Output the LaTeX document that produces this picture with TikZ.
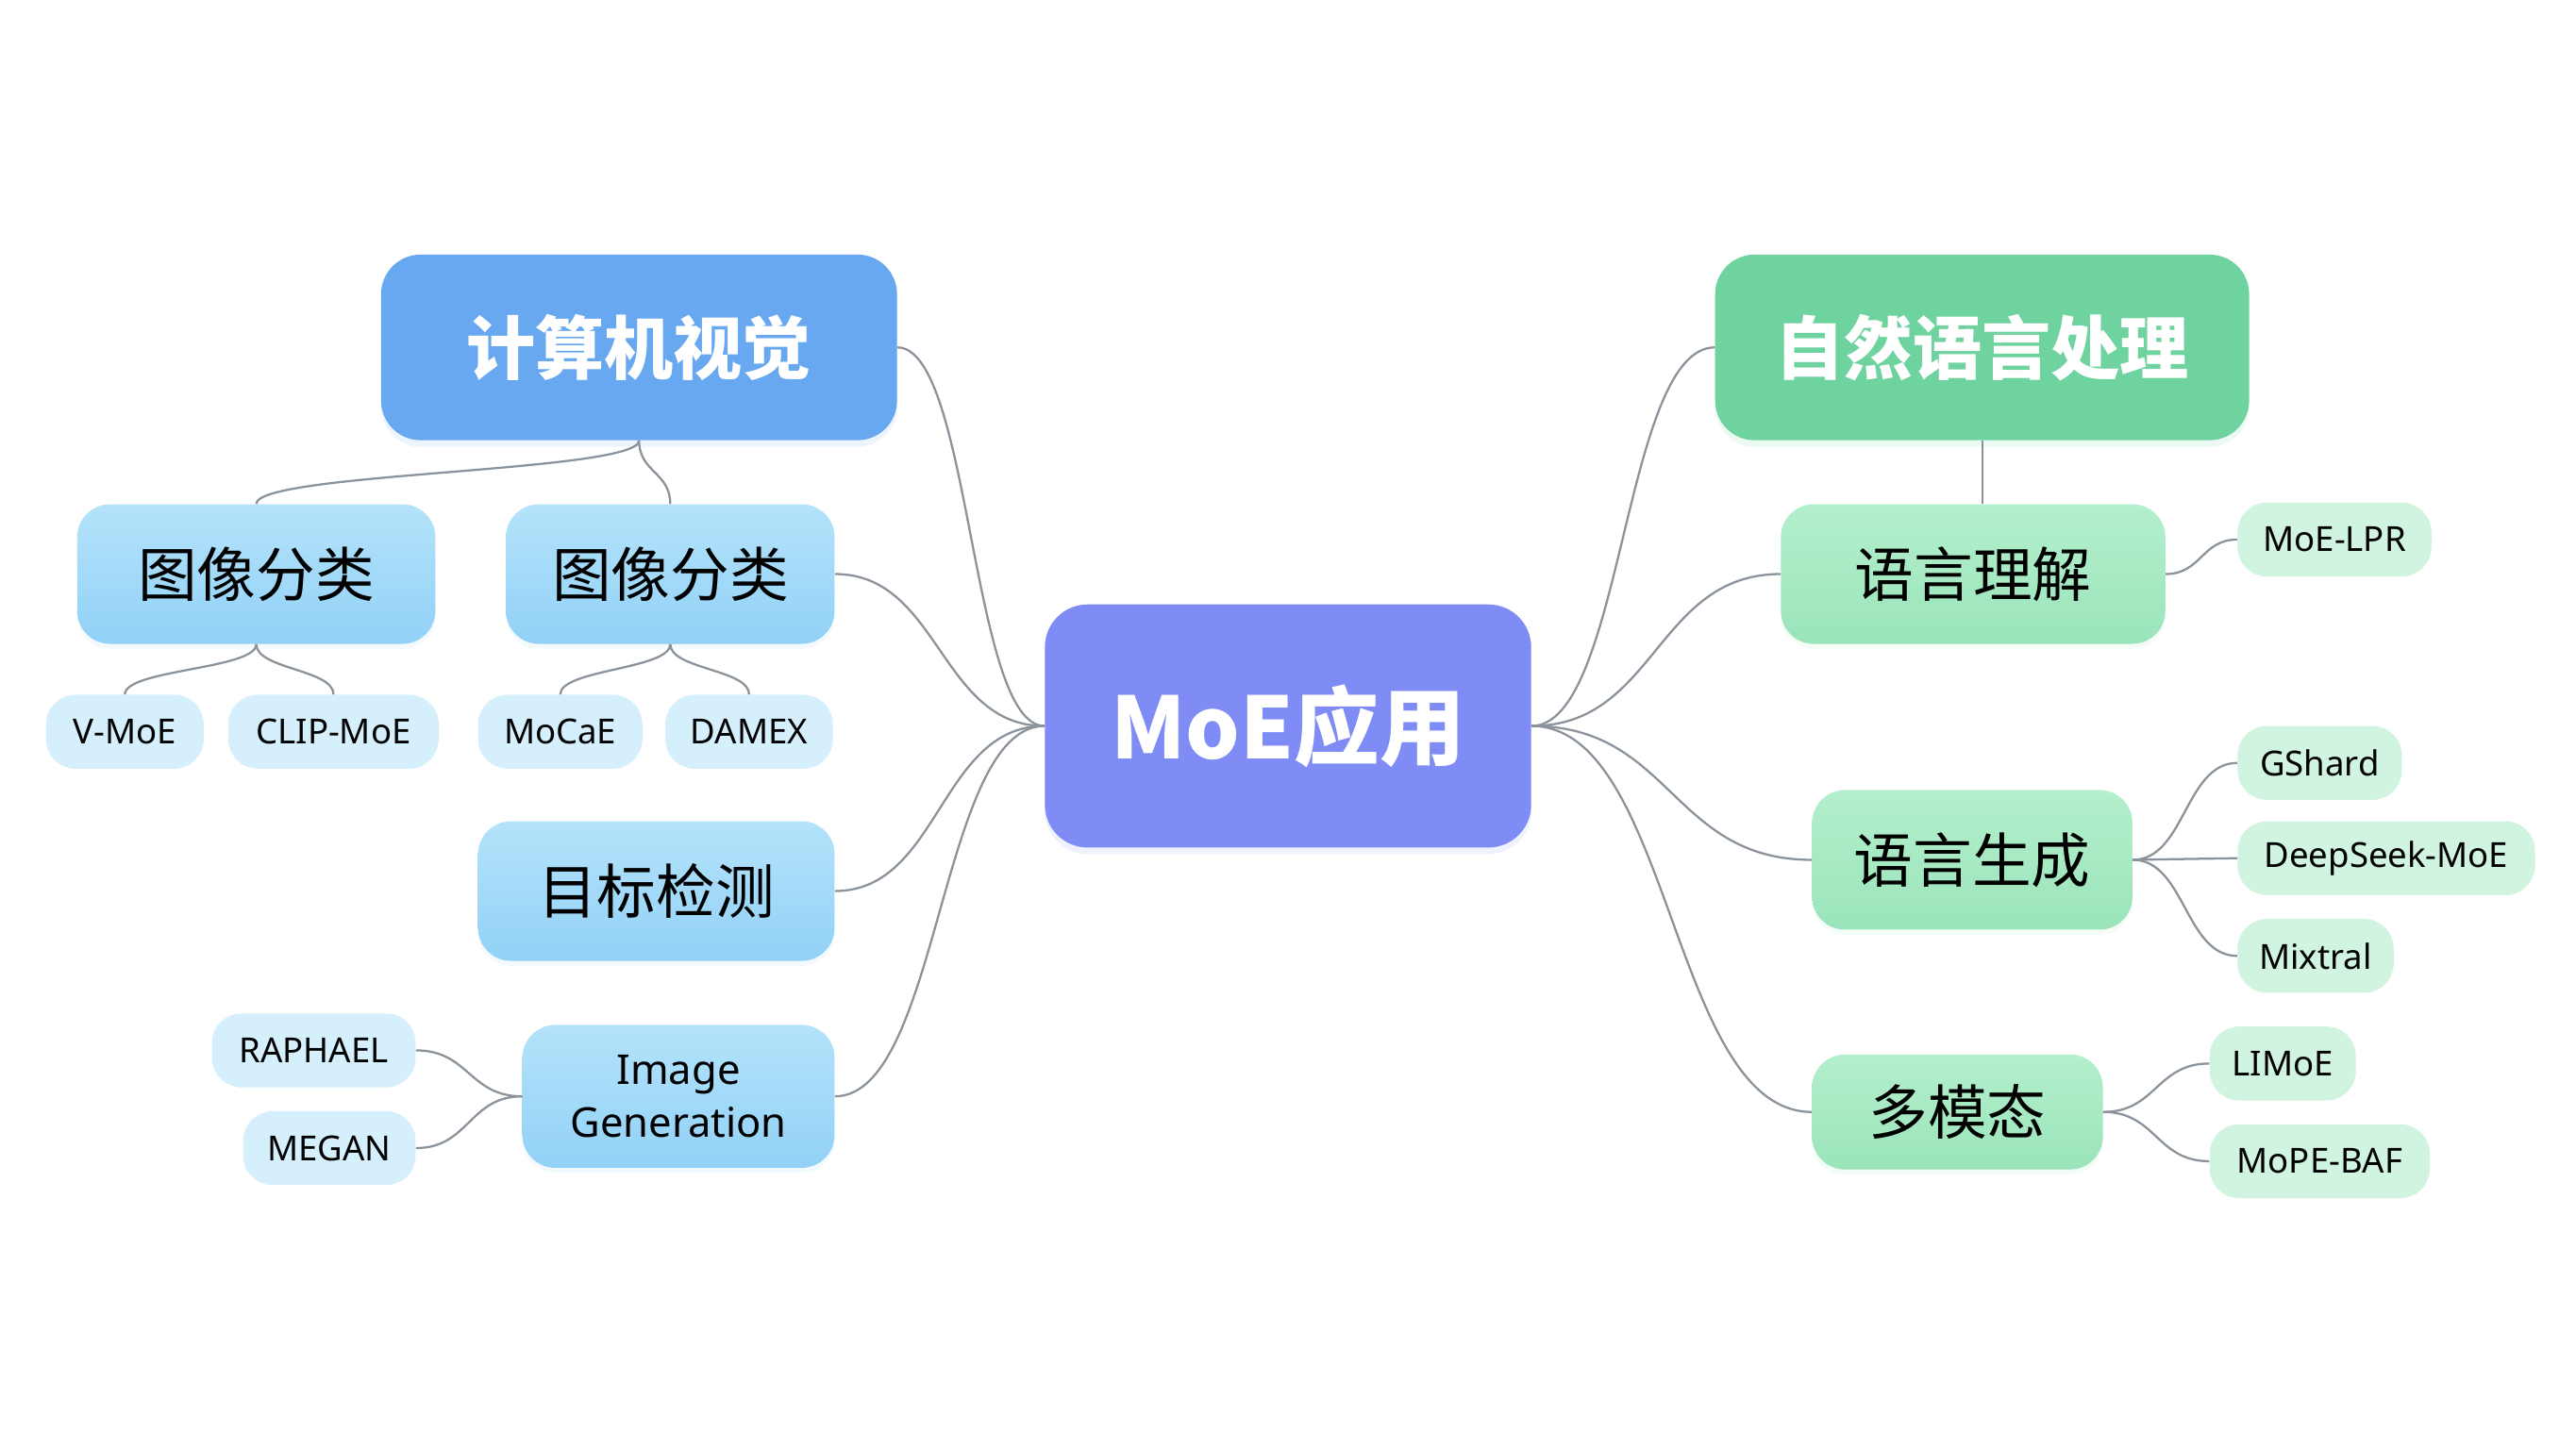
\documentclass[tikz,border=0pt]{standalone}
\usepackage{fontspec}
\setmainfont{Noto Sans}
\newfontfamily\cjk{Noto Sans CJK SC}
\usepackage{tikz}
\usetikzlibrary{calc,shadows}

\definecolor{RootBlue}{HTML}{7F8CF5}
\definecolor{CvBlue}{HTML}{68A8F0}
\definecolor{NlpGreen}{HTML}{6FD3A0}
\definecolor{TopicBlueTop}{HTML}{B4E3FA}
\definecolor{TopicBlueBot}{HTML}{92D1F7}
\definecolor{TopicGreenTop}{HTML}{B4EFCD}
\definecolor{TopicGreenBot}{HTML}{9AE4BA}
\definecolor{LeafBlue}{HTML}{D5EFFC}
\definecolor{LeafGreen}{HTML}{D0F4DF}
\definecolor{LinkGray}{HTML}{8A939B}

\begin{document}
\begin{tikzpicture}[
    x=1pt,y=-1pt,
    Box/.style={rounded corners=#1,align=center,inner sep=0pt},
    Root/.style={Box=26pt,fill=RootBlue,text=white,minimum width=296pt,minimum height=148pt,
      font=\cjk\fontsize{52}{60}\selectfont\bfseries,
      drop shadow={shadow xshift=0pt,shadow yshift=-4pt,opacity=0.12,fill=RootBlue}},
    Field/.style={Box=24pt,fill=#1,text=white,minimum height=113pt,
      font=\fontsize{42}{50}\selectfont\bfseries,
      drop shadow={shadow xshift=0pt,shadow yshift=-4pt,opacity=0.12,fill=#1}},
    TopicB/.style={Box=20pt,top color=TopicBlueTop,bottom color=TopicBlueBot,minimum height=85pt,
      font=\fontsize{36}{44}\selectfont,
      drop shadow={shadow xshift=0pt,shadow yshift=-3pt,opacity=0.1,fill=TopicBlueBot}},
    TopicG/.style={Box=20pt,top color=TopicGreenTop,bottom color=TopicGreenBot,minimum height=85pt,
      font=\fontsize{36}{44}\selectfont,
      drop shadow={shadow xshift=0pt,shadow yshift=-3pt,opacity=0.1,fill=TopicGreenBot}},
    LeafB/.style={Box=18pt,fill=LeafBlue,minimum height=45pt,font=\fontsize{21}{25}\selectfont},
    LeafG/.style={Box=18pt,fill=LeafGreen,minimum height=45pt,font=\fontsize{21}{25}\selectfont},
    HLink/.style={draw=LinkGray,line width=1.3pt,
      to path={.. controls ($(\tikztostart)!0.5!(\tikztostart -| \tikztotarget)$)
                       and ($(\tikztotarget)!0.5!(\tikztotarget -| \tikztostart)$) .. (\tikztotarget)}},
    VLink/.style={draw=LinkGray,line width=1.3pt,
      to path={.. controls ($(\tikztostart)!0.5!(\tikztostart |- \tikztotarget)$)
                       and ($(\tikztotarget)!0.5!(\tikztotarget |- \tikztostart)$) .. (\tikztotarget)}},
    ]

    \useasboundingbox[fill=white] (0,0) rectangle (1568,881.7);

    % root and the two fields
    \node[Root] (MoE) at (784,442) {MoE应用};
    \node[Field=CvBlue,minimum width=314pt]   (CV)  at (389,211.5)    {\cjk 计算机视觉};
    \node[Field=NlpGreen,minimum width=325pt] (NLP) at (1206.5,211.5) {\cjk 自然语言处理};

    % vision side
    \node[TopicB,minimum width=218pt] (Cls1) at (156,349.5)   {\cjk 图像分类};
    \node[TopicB,minimum width=200pt] (Cls2) at (408,349.5)   {\cjk 图像分类};
    \node[TopicB,minimum width=217pt] (Det)  at (399.5,542.5) {\cjk 目标检测};
    \node[TopicB,minimum width=190pt,minimum height=87pt,font=\fontsize{25}{32}\selectfont]
      (Gen) at (413,667.5) {Image\\Generation};

    \node[LeafB,minimum width=96pt]  (VMoE)    at (76,445.5)  {V-MoE};
    \node[LeafB,minimum width=128pt] (CLIP)    at (203,445.5) {CLIP-MoE};
    \node[LeafB,minimum width=100pt] (MoCaE)   at (341,445.5) {MoCaE};
    \node[LeafB,minimum width=102pt] (DAMEX)   at (456,445.5) {DAMEX};
    \node[LeafB,minimum width=124pt] (RAPHAEL) at (191,639.5) {RAPHAEL};
    \node[LeafB,minimum width=105pt] (MEGAN)   at (200.5,699) {MEGAN};

    % language side
    \node[TopicG,minimum width=234pt] (NLU) at (1201,349.5)   {\cjk 语言理解};
    \node[TopicG,minimum width=195pt] (NLG) at (1200.5,523.5) {\cjk 语言生成};
    \node[TopicG,minimum width=177pt,minimum height=70pt] (MM) at (1191.5,677) {\cjk 多模态};

    \node[LeafG,minimum width=118pt] (LPR)      at (1421,328.5)   {MoE-LPR};
    \node[LeafG,minimum width=100pt] (GShard)   at (1412,464.5)   {GShard};
    \node[LeafG,minimum width=181pt] (DeepSeek) at (1452.5,522.5) {DeepSeek-MoE};
    \node[LeafG,minimum width=95pt]  (Mixtral)  at (1409.5,582)   {Mixtral};
    \node[LeafG,minimum width=89pt]  (LIMoE)    at (1389.5,647.5) {LIMoE};
    \node[LeafG,minimum width=134pt] (MoPE)     at (1412,707)     {MoPE-BAF};

    % links
    \draw[HLink] (MoE.west) to (CV.east);
    \draw[HLink] (MoE.west) to (Cls2.east);
    \draw[HLink] (MoE.west) to (Det.east);
    \draw[HLink] (MoE.west) to (Gen.east);
    \draw[HLink] (MoE.east) to (NLP.west);
    \draw[HLink] (MoE.east) to (NLU.west);
    \draw[HLink] (MoE.east) to (NLG.west);
    \draw[HLink] (MoE.east) to (MM.west);

    \draw[VLink] (CV.south)   to (Cls1.north);
    \draw[VLink] (CV.south)   to (Cls2.north);
    \draw[VLink] (NLP.south)  -- (NLP.south |- NLU.north);
    \draw[VLink] (Cls1.south) to (VMoE.north);
    \draw[VLink] (Cls1.south) to (CLIP.north);
    \draw[VLink] (Cls2.south) to (MoCaE.north);
    \draw[VLink] (Cls2.south) to (DAMEX.north);

    \draw[HLink] (Gen.west) to (RAPHAEL.east);
    \draw[HLink] (Gen.west) to (MEGAN.east);
    \draw[HLink] (NLU.east) to (LPR.west);
    \draw[HLink] (NLG.east) to (GShard.west);
    \draw[HLink] (NLG.east) to (DeepSeek.west);
    \draw[HLink] (NLG.east) to (Mixtral.west);
    \draw[HLink] (MM.east)  to (LIMoE.west);
    \draw[HLink] (MM.east)  to (MoPE.west);
  \end{tikzpicture}
\end{document}
